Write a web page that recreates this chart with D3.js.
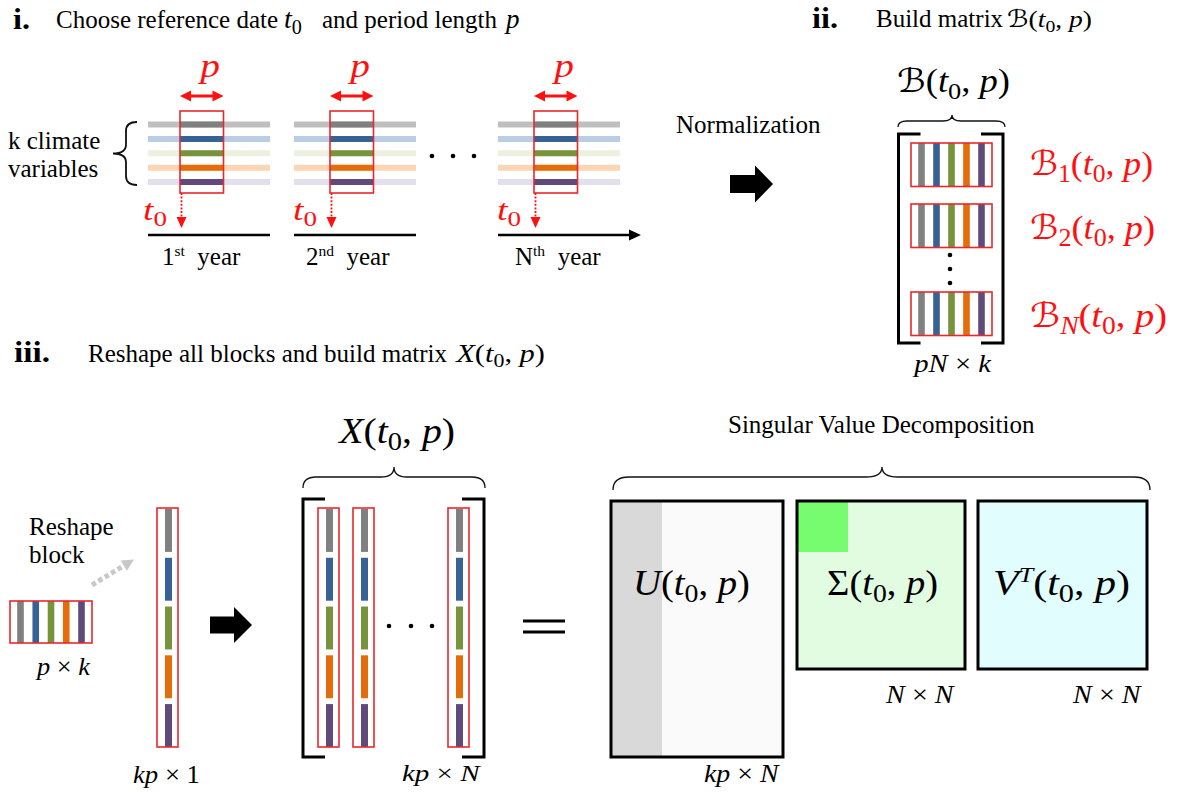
<!DOCTYPE html>
<html><head><meta charset="utf-8">
<script src="https://cdn.jsdelivr.net/npm/d3@7"></script>
<style>html,body{margin:0;padding:0;background:#fff;}svg{display:block;font-family:'Liberation Serif','Times New Roman',serif;}</style>
</head><body>
<script>
// ---------------- DATA ----------------
const variables   = ["var1", "var2", "var3", "var4", "var5"];       // k climate variables
const darkColors  = ["#808080", "#386194", "#77933c", "#e46c0a", "#604a7b"];
const lightColors = ["#bfbfbf", "#b9cde5", "#ebf1de", "#fcd5b5", "#e4dfec"];
const years       = ["1", "2", "N"];
const yearSuffix  = ["st", "nd", "th"];
const blockIds    = ["1", "2", "N"];
const columnIds   = ["1", "2", "N"];
const svdFactors  = ["U", "Σ", "V"];
const svdDims     = [["kp", "N"], ["N", "N"], ["N", "N"]];

// ---------------- SETUP ----------------
const W = 1177, H = 799;
const SERIF = "'Liberation Serif','Times New Roman',serif";
const CAL = "'DejaVu Serif','DejaVu Sans',serif";
const RED = "#ff1010", BOXRED = "#e8282c";

const svg = d3.select("body").append("svg").attr("width", W).attr("height", H);
svg.append("rect").attr("width", W).attr("height", H).attr("fill", "#fff");

const colorDark  = d3.scaleOrdinal().domain(variables).range(darkColors);
const colorLight = d3.scaleOrdinal().domain(variables).range(lightColors);

// rich text helper: parts = [[text, kind]], kind in r,i,b,sub,isub,sup,isup,cal
function rich(parent, parts, o) {
  const g = parent.append("g");
  const t = g.append("text").style("font-family", SERIF).attr("font-size", o.size)
    .attr("fill", o.color || "#000");
  let off = 0;
  parts.forEach(([s, k]) => {
    const ts = t.append("tspan").text(s);
    let target = 0;
    if (k === "sub" || k === "isub") { target = o.size * 0.2; ts.attr("font-size", o.size * 0.72); }
    if (k === "sup" || k === "isup") { target = -o.size * 0.38; ts.attr("font-size", o.size * 0.62); }
    if (k === "i" || k === "isup" || k === "isub") ts.style("font-style", "italic");
    if (k === "b") ts.style("font-weight", "bold");
    if (k === "cal") ts.style("font-family", CAL);
    if (target - off !== 0) ts.attr("dy", target - off);
    off = target;
  });
  const bb = t.node().getBBox();
  let sx = 1, x = o.x;
  if (o.x1 !== undefined) { sx = (o.x1 - o.x) / bb.width; x = o.x - bb.x * sx; }
  else if (o.anchor === "middle") { x = o.x - bb.x - bb.width / 2; }
  g.attr("transform", `translate(${x},${o.y}) scale(${sx},1)`);
  return g;
}

function blockArrow(g, x0, xh, x1, yc, bh, hh) {
  g.append("polygon").attr("fill", "#000").attr("points",
    [[x0, yc - bh], [xh, yc - bh], [xh, yc - hh], [x1, yc], [xh, yc + hh], [xh, yc + bh], [x0, yc + bh]].join(" "));
}
function head(g, tx, ty, ang, len, hw, fill) {
  const c = Math.cos(ang), s = Math.sin(ang);
  const bx = tx - c * len, by = ty - s * len;
  g.append("polygon").attr("fill", fill).attr("points",
    [[tx, ty], [bx - s * hw, by + c * hw], [bx + s * hw, by - c * hw]].join(" "));
}
function hBrace(g, x1, x2, xc, yTop, yFlat, yEnd, r, sw) {
  g.append("path").attr("fill", "none").attr("stroke", "#111").attr("stroke-width", sw || 1.3)
    .attr("d", `M${x1},${yEnd} Q${x1},${yFlat} ${x1 + r},${yFlat} L${xc - r},${yFlat} Q${xc},${yFlat} ${xc},${yTop} Q${xc},${yFlat} ${xc + r},${yFlat} L${x2 - r},${yFlat} Q${x2},${yFlat} ${x2},${yEnd}`);
}
function vBrace(g, xEnd, xFlat, xTip, y1, y2, yc, r, sw) {
  g.append("path").attr("fill", "none").attr("stroke", "#111").attr("stroke-width", sw)
    .attr("d", `M${xEnd},${y1} Q${xFlat},${y1} ${xFlat},${y1 + r} L${xFlat},${yc - r} Q${xFlat},${yc} ${xTip},${yc} Q${xFlat},${yc} ${xFlat},${yc + r} L${xFlat},${y2 - r} Q${xFlat},${y2} ${xEnd},${y2}`);
}
function bracket(g, x, y0, y1, serif) {
  g.append("path").attr("fill", "none").attr("stroke", "#000").attr("stroke-width", 3)
    .attr("d", `M${x + serif},${y0} L${x},${y0} L${x},${y1} L${x + serif},${y1}`);
}
// horizontal block of k vertical stripes
function stripeBlock(g, x, y, w, h) {
  const sx = d3.scalePoint().domain(variables).range([x + 10.5, x + w - 10.5]);
  g.selectAll(null).data(variables).join("rect")
    .attr("x", d => sx(d) - 3.3).attr("y", y).attr("width", 6.6).attr("height", h)
    .attr("fill", d => colorDark(d));
  g.append("rect").attr("x", x).attr("y", y).attr("width", w).attr("height", h)
    .attr("fill", "none").attr("stroke", BOXRED).attr("stroke-width", 1.6);
}
// vertical column of k stacked segments
function stripeColumn(g, x, y0, y1, w) {
  const sy = d3.scaleBand().domain(variables).range([y0 + 1, y1]).paddingInner(0.12);
  g.selectAll(null).data(variables).join("rect")
    .attr("x", x + 8).attr("y", d => sy(d)).attr("width", 7).attr("height", sy.bandwidth())
    .attr("fill", d => colorDark(d));
  g.append("rect").attr("x", x).attr("y", y0).attr("width", w).attr("height", y1 - y0)
    .attr("fill", "none").attr("stroke", BOXRED).attr("stroke-width", 1.6);
}
function dots(g, pts) {
  g.selectAll(null).data(pts).join("circle").attr("cx", d => d[0]).attr("cy", d => d[1])
    .attr("r", 2.3).attr("fill", "#000");
}
const arg = (pre) => pre.concat([["(", "r"], ["t", "i"], ["0", "sub"], [", ", "r"], ["p", "i"], [")", "r"]]);

// ================= PANEL i =================
const p1 = svg.append("g");
rich(p1, [["i.", "b"]], { x: 13, x1: 30, y: 29, size: 30 });
rich(p1, [["Choose reference date", "r"]], { x: 56, y: 28, size: 25 });
rich(p1, [["t", "i"], ["0", "sub"]], { x: 284, y: 28, size: 28 });
rich(p1, [["and period length", "r"]], { x: 322, y: 28, size: 25 });
rich(p1, [["p", "i"]], { x: 506, y: 28, size: 27 });

rich(p1, [["k climate", "r"]], { x: 8, y: 149, size: 25 });
rich(p1, [["variables", "r"]], { x: 8, y: 177, size: 25 });
vBrace(p1, 137, 126, 113, 122, 185, 153.5, 9, 1.8);

const yearLineX = d3.scaleOrdinal().domain(years).range([148, 294, 498]);
const yearBoxX  = d3.scaleOrdinal().domain(years).range([180, 330, 534]);
const yearLabX  = d3.scaleOrdinal().domain(years).range([162, 306, 515]);
const rowY = d3.scalePoint().domain(variables).range([124.5, 182]);
const LINE_W = 122, BOX_W = 43.5, BOX_TOP = 111, BOX_BOT = 193, AXIS_Y = 235;

years.forEach((yr, i) => {
  const g = p1.append("g");
  const lx = yearLineX(yr), bx = yearBoxX(yr);
  g.selectAll(null).data(variables).join("line")
    .attr("x1", lx).attr("x2", lx + LINE_W).attr("y1", d => rowY(d)).attr("y2", d => rowY(d))
    .attr("stroke", d => colorLight(d)).attr("stroke-width", 6);
  g.selectAll(null).data(variables).join("line")
    .attr("x1", bx).attr("x2", bx + BOX_W).attr("y1", d => rowY(d)).attr("y2", d => rowY(d))
    .attr("stroke", d => colorDark(d)).attr("stroke-width", 6);
  g.append("rect").attr("x", bx).attr("y", BOX_TOP).attr("width", BOX_W).attr("height", BOX_BOT - BOX_TOP)
    .attr("fill", "none").attr("stroke", BOXRED).attr("stroke-width", 1.6);
  // p double arrow
  g.append("line").attr("x1", bx + 8).attr("x2", bx + BOX_W - 8).attr("y1", 96).attr("y2", 96)
    .attr("stroke", RED).attr("stroke-width", 3);
  head(g, bx, 96, Math.PI, 11, 5.5, RED);
  head(g, bx + BOX_W, 96, 0, 11, 5.5, RED);
  rich(g, [["p", "i"]], { x: bx + 18, x1: bx + 40, y: 77, size: 34, color: RED });
  // t0 and dotted arrow
  rich(g, [["t", "i"], ["0", "sub"]], { x: bx - 37, x1: bx - 13, y: 220, size: 30, color: RED });
  g.append("line").attr("x1", bx + 1.5).attr("x2", bx + 1.5).attr("y1", BOX_BOT).attr("y2", 218)
    .attr("stroke", RED).attr("stroke-width", 1.8).attr("stroke-dasharray", "2,1.6");
  head(g, bx + 1.5, 228, Math.PI / 2, 11, 5, RED);
  // time axis
  const last = i === years.length - 1;
  g.append("line").attr("x1", lx).attr("x2", last ? lx + 134 : lx + LINE_W).attr("y1", AXIS_Y).attr("y2", AXIS_Y)
    .attr("stroke", "#000").attr("stroke-width", 2.5);
  if (last) head(g, lx + 143, AXIS_Y, 0, 12, 5.5, "#000");
  rich(g, [[yr, "r"], [yearSuffix[i], "sup"], ["\u00a0 year", "r"]], { x: yearLabX(yr), y: 265, size: 25 });
});
dots(p1, [[432, 156], [453, 156], [474, 156]]);

rich(p1, [["Normalization", "r"]], { x: 676, y: 133, size: 25 });
blockArrow(p1, 730, 755, 773, 184, 9, 18.5);

// ================= PANEL ii =================
const p2 = svg.append("g");
rich(p2, [["ii.", "b"]], { x: 812, x1: 838, y: 28, size: 30 });
rich(p2, [["Build matrix", "r"]], { x: 876, y: 27, size: 25 });
rich(p2, arg([["ℬ", "cal"]]), { x: 1007, x1: 1092, y: 27, size: 24 });
rich(p2, arg([["ℬ", "cal"]]), { x: 897, x1: 1010, y: 92, size: 33 });
hBrace(p2, 898, 1005, 952, 115, 121, 127, 9, 1.3);
bracket(p2, 898.5, 134, 343, 22);
bracket(p2, 1003, 134, 343, -22);

const blockY = d3.scaleOrdinal().domain(blockIds).range([143, 204, 292]);
const blockLabY = d3.scaleOrdinal().domain(blockIds).range([175, 239, 327]);
const blockLabX1 = d3.scaleOrdinal().domain(blockIds).range([1153, 1155, 1167]);
blockIds.forEach(b => {
  stripeBlock(p2, 911, blockY(b), 81, 43.5);
  rich(p2, arg([["ℬ", "cal"], [b, b === "N" ? "isub" : "sub"]]),
    { x: 1030, x1: blockLabX1(b), y: blockLabY(b), size: 34, color: RED });
});
dots(p2, [[950, 255], [950, 269], [950, 283]]);
rich(p2, [["pN", "i"], [" × ", "r"], ["k", "i"]], { x: 912, x1: 992, y: 372, size: 25 });

// ================= PANEL iii =================
const p3 = svg.append("g");
rich(p3, [["iii.", "b"]], { x: 14, x1: 50, y: 362, size: 30 });
rich(p3, [["Reshape all blocks and build matrix", "r"]], { x: 88, y: 362, size: 25 });
rich(p3, arg([["X", "i"]]), { x: 455, x1: 545, y: 362, size: 25 });

// reshape block
rich(p3, [["Reshape", "r"]], { x: 29, y: 535, size: 25 });
rich(p3, [["block", "r"]], { x: 29, y: 563, size: 25 });
p3.append("line").attr("x1", 92).attr("y1", 585).attr("x2", 124).attr("y2", 565.5)
  .attr("stroke", "#c8c8c8").attr("stroke-width", 5).attr("stroke-dasharray", "4.5,3");
head(p3, 134, 559.5, Math.atan2(-25, 41), 12, 6, "#c8c8c8");
stripeBlock(p3, 10, 601, 82, 42);
rich(p3, [["p", "i"], [" × ", "r"], ["k", "i"]], { x: 35, x1: 91, y: 675, size: 25 });
stripeColumn(p3, 157, 508, 747, 21);
rich(p3, [["kp", "i"], [" × ", "r"], ["1", "r"]], { x: 133, x1: 200, y: 783, size: 25 });
blockArrow(p3, 210, 234, 252, 625, 8.5, 18);

// X matrix
rich(p3, arg([["X", "i"]]), { x: 337, x1: 455, y: 443, size: 35 });
hBrace(p3, 303, 485, 394, 467, 477, 488, 13, 1.3);
bracket(p3, 303, 499, 757, 22);
bracket(p3, 484, 499, 757, -22);
const colX = d3.scaleOrdinal().domain(columnIds).range([318, 353, 448]);
columnIds.forEach(c => stripeColumn(p3, colX(c), 508, 747, 21));
dots(p3, [[389, 626], [411, 626], [432, 626]]);
rich(p3, [["kp", "i"], [" × ", "r"], ["N", "i"]], { x: 402, x1: 482, y: 781, size: 24 });
// equals sign
p3.selectAll(null).data([621, 632]).join("line").attr("x1", 523).attr("x2", 565)
  .attr("y1", d => d).attr("y2", d => d).attr("stroke", "#000").attr("stroke-width", 3);

// SVD
rich(p3, [["Singular Value Decomposition", "r"]], { x: 728, y: 433, size: 25 });
hBrace(p3, 613, 1150, 882, 467, 477, 490, 16, 1.3);

const svdLayout = {
  U: { x: 611, y: 501, w: 172, h: 256, fill: "#fafafa", lab: [633, 750], dim: [704, 780, 782] },
  "Σ": { x: 797, y: 501, w: 168, h: 168, fill: "#e2fce2", lab: [827, 938], dim: [885, 955, 703] },
  V: { x: 978, y: 501, w: 169, h: 168, fill: "#e1fdfd", lab: [993, 1130], dim: [1072, 1142, 703] }
};
svdFactors.forEach((f, i) => {
  const L = svdLayout[f];
  const g = p3.append("g");
  g.append("rect").attr("x", L.x).attr("y", L.y).attr("width", L.w).attr("height", L.h).attr("fill", L.fill);
  if (f === "U") g.append("rect").attr("x", L.x).attr("y", L.y).attr("width", 51).attr("height", L.h).attr("fill", "#d9d9d9");
  if (f === "Σ") g.append("rect").attr("x", L.x).attr("y", L.y).attr("width", 51).attr("height", 51).attr("fill", "#77fc6f");
  g.append("rect").attr("x", L.x).attr("y", L.y).attr("width", L.w).attr("height", L.h)
    .attr("fill", "none").attr("stroke", "#000").attr("stroke-width", 3);
  const head0 = f === "V" ? [["V", "i"], ["T", "isup"]] : [[f, f === "Σ" ? "r" : "i"]];
  rich(g, arg(head0), { x: L.lab[0], x1: L.lab[1], y: 595, size: 35 });
  const [a, b] = svdDims[i];
  rich(g, [[a, "i"], [" × ", "r"], [b, "i"]], { x: L.dim[0], x1: L.dim[1], y: L.dim[2], size: 25 });
});
</script>
</body></html>
